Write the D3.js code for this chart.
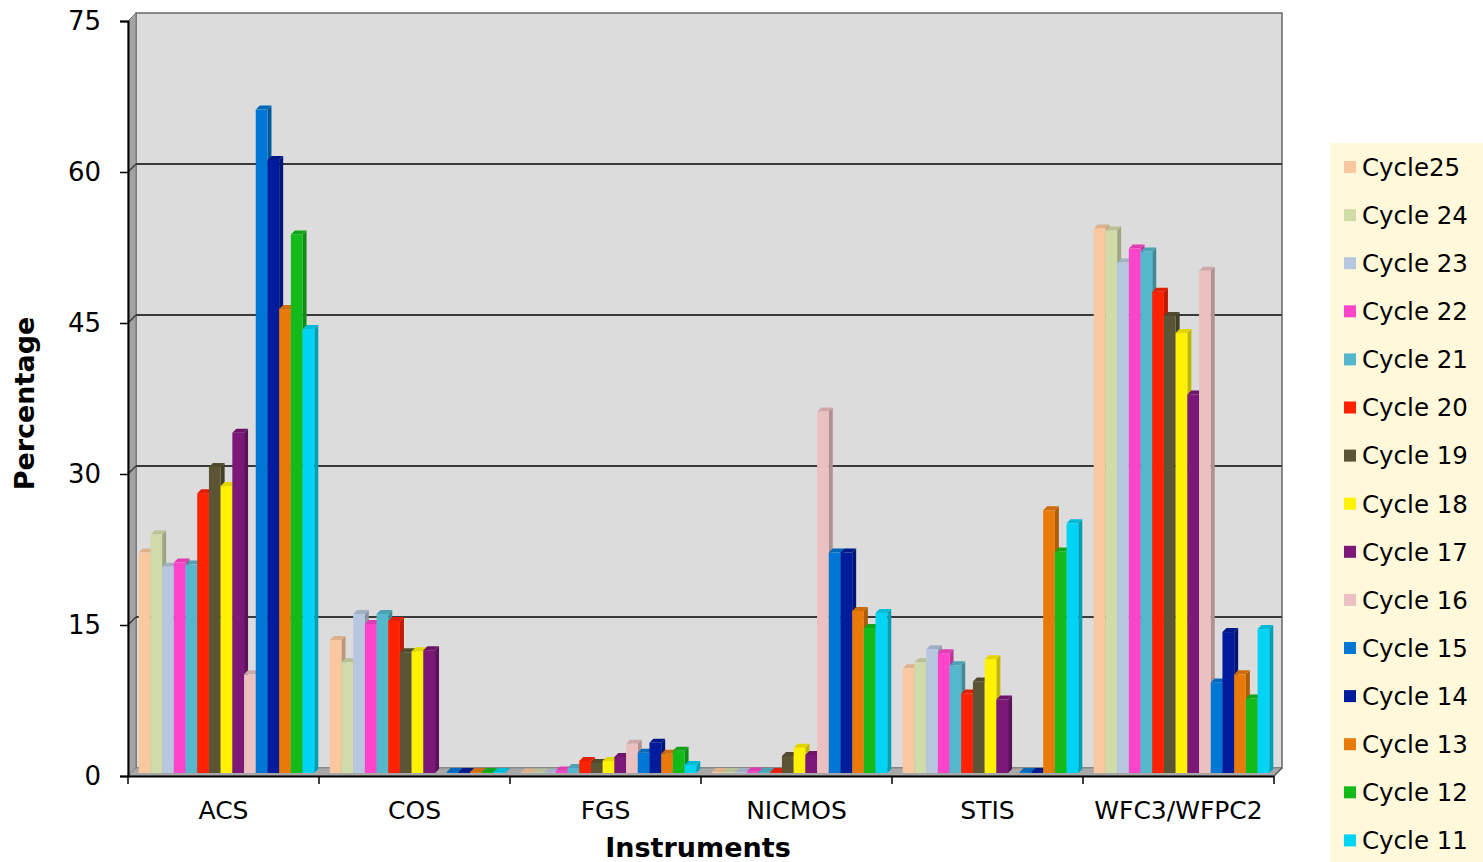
<!DOCTYPE html>
<html>
<head>
<meta charset="utf-8">
<script src="https://cdn.jsdelivr.net/npm/d3@7"></script>
<style>
  html, body { margin: 0; padding: 0; background: #ffffff; }
  svg { display: block; font-family: "DejaVu Sans", Verdana, sans-serif; }
</style>
</head>
<body>
<svg id="chart" width="1483" height="862"></svg>
<script>
// Instruments along the x axis
const categories = ["ACS", "COS", "FGS", "NICMOS", "STIS", "WFC3/WFPC2"];

// Proposal cycles, in legend order
const series = ["Cycle25", "Cycle 24", "Cycle 23", "Cycle 22", "Cycle 21", "Cycle 20",
  "Cycle 19", "Cycle 18", "Cycle 17", "Cycle 16", "Cycle 15", "Cycle 14",
  "Cycle 13", "Cycle 12", "Cycle 11"];

const seriesColors = ["#f9c89e", "#cfdcaa", "#b8c7e0", "#ff44cc", "#55b7cc", "#ff2200",
  "#5b5535", "#fff200", "#7b1878", "#ebc0c0", "#0077d4", "#001c9c",
  "#e87a0a", "#12ba1a", "#00d4f5"];

// Percentage of time per instrument, one value per cycle (same order as series)
const acsValues    = [21.9, 23.7, 20.5, 20.9, 20.7, 27.8, 30.4, 28.5, 33.8, 9.8, 65.9, 60.9, 46.1, 53.5, 44.1];
const cosValues    = [13.2, 11.0, 15.8, 14.8, 15.8, 15.1, 12.0, 12.1, 12.2, 0, 0.1, 0.1, 0.1, 0.1, 0.1];
const fgsValues    = [0.05, 0.05, 0.05, 0.25, 0.5, 1.2, 1.0, 1.2, 1.6, 2.9, 2.0, 3.0, 1.9, 2.2, 0.8];
const nicmosValues = [0.1, 0.1, 0.1, 0.15, 0.1, 0.1, 1.7, 2.5, 1.8, 35.9, 21.9, 21.9, 16.1, 14.4, 15.9];
const stisValues   = [10.4, 11.0, 12.3, 11.9, 10.7, 7.9, 9.1, 11.3, 7.3, 0, 0.1, 0.1, 26.1, 22.0, 24.8];
const wfcValues    = [54.1, 53.9, 50.7, 52.1, 51.8, 47.8, 45.4, 43.7, 37.6, 49.9, 9.0, 14.0, 9.8, 7.4, 14.3];

const yTicks = [0, 15, 30, 45, 60, 75];

const valuesByCategory = [acsValues, cosValues, fgsValues, nicmosValues, stisValues, wfcValues];
const rows = [];
categories.forEach((c, ci) => {
  series.forEach((s, si) => rows.push({ category: c, series: s, value: valuesByCategory[ci][si], color: seriesColors[si] }));
});

const svg = d3.select("#chart");

// Plot geometry (front plane) and 3D depth offsets
const plotLeft = 128, plotRight = 1274, plotBottom = 776, plotTop = 21;
const depth = 8;          // wall depth (px, up-right)
const barFront = 3;       // bar front-face offset into the depth
const barDepth = 4;       // bar thickness in depth

const y = d3.scaleLinear().domain([0, 75]).range([plotBottom, plotTop]);
const x0 = d3.scaleBand().domain(categories).range([plotLeft, plotRight]).paddingInner(0).paddingOuter(0);
const x1 = d3.scaleBand().domain(series).range([0, x0.bandwidth()]).paddingInner(0).paddingOuter(0.66);
const color = d3.scaleOrdinal().domain(series).range(seriesColors);

// Back wall
svg.append("rect")
  .attr("x", plotLeft + depth).attr("y", y(75) - depth)
  .attr("width", plotRight - plotLeft).attr("height", y(0) - y(75))
  .attr("fill", "#dcdcdc").attr("stroke", "#666").attr("stroke-width", 1.5);

// Left wall
svg.append("polygon")
  .attr("points", [[plotLeft, y(75)], [plotLeft + depth, y(75) - depth], [plotLeft + depth, y(0) - depth], [plotLeft, y(0)]].join(" "))
  .attr("fill", "#a2a2a2").attr("stroke", "#777").attr("stroke-width", 1);

// Floor
svg.append("polygon")
  .attr("points", [[plotLeft, y(0)], [plotRight, y(0)], [plotRight + depth, y(0) - depth], [plotLeft + depth, y(0) - depth]].join(" "))
  .attr("fill", "#a8a8a8").attr("stroke", "#888").attr("stroke-width", 1);

// Gridlines on back wall and their continuation across the left wall
const grid = svg.append("g");
yTicks.filter(v => v > 0 && v < 75).forEach(v => {
  grid.append("line")
    .attr("x1", plotLeft + depth).attr("x2", plotRight + depth)
    .attr("y1", y(v) - depth).attr("y2", y(v) - depth)
    .attr("stroke", "#3a3a3a").attr("stroke-width", 2);
  grid.append("line")
    .attr("x1", plotLeft).attr("x2", plotLeft + depth)
    .attr("y1", y(v)).attr("y2", y(v) - depth)
    .attr("stroke", "#3a3a3a").attr("stroke-width", 1.5);
});

// 3D columns: front face, top face and right side face
const bars = svg.append("g");
rows.forEach(d => {
  if (d.value <= 0) return;
  const bx = x0(d.category) + x1(d.series) + barFront;
  const w = x1.bandwidth();
  const yt = y(d.value) - barFront;
  const yb = y(0) - barFront;
  const c = d3.color(d.color);
  const g = bars.append("g");
  // right side face
  g.append("polygon")
    .attr("points", [[bx + w, yt], [bx + w + barDepth, yt - barDepth], [bx + w + barDepth, yb - barDepth], [bx + w, yb]].join(" "))
    .attr("fill", c.darker(0.8));
  // top face
  g.append("polygon")
    .attr("points", [[bx, yt], [bx + barDepth, yt - barDepth], [bx + w + barDepth, yt - barDepth], [bx + w, yt]].join(" "))
    .attr("fill", c.darker(0.35));
  // front face
  g.append("rect")
    .attr("x", bx).attr("y", yt).attr("width", w).attr("height", Math.max(0.5, yb - yt))
    .attr("fill", d.color);
});

// Y axis
const yAxis = svg.append("g")
  .attr("transform", `translate(${plotLeft},0)`)
  .call(d3.axisLeft(y).tickValues(yTicks).tickSize(8).tickPadding(19).tickFormat(d3.format("d")));
yAxis.select(".domain").attr("stroke", "#000").attr("stroke-width", 2);
yAxis.selectAll(".tick line").attr("stroke", "#000").attr("stroke-width", 1.5);
yAxis.selectAll(".tick text").attr("font-size", 26).attr("fill", "#000")
  .attr("font-family", "'DejaVu Sans', Verdana, sans-serif");

// X axis
const xAxis = svg.append("g")
  .attr("transform", `translate(0,${plotBottom})`)
  .call(d3.axisBottom(x0).tickSize(0).tickPadding(25));
xAxis.select(".domain").attr("stroke", "#000").attr("stroke-width", 2);
xAxis.selectAll(".tick text").attr("font-size", 25).attr("fill", "#000")
  .attr("font-family", "'DejaVu Sans', Verdana, sans-serif");
// category boundary ticks
const boundaries = categories.map(c => x0(c)).concat([plotRight]);
xAxis.selectAll(".bound").data(boundaries).enter().append("line")
  .attr("class", "bound")
  .attr("x1", d => d).attr("x2", d => d).attr("y1", 0).attr("y2", 8)
  .attr("stroke", "#000").attr("stroke-width", 1.5);
// front-right corner edge of the floor
svg.append("line")
  .attr("x1", plotRight).attr("y1", plotBottom).attr("x2", plotRight + depth).attr("y2", plotBottom - depth)
  .attr("stroke", "#555").attr("stroke-width", 1.5);

// Axis titles
svg.append("text")
  .attr("x", (plotLeft + plotRight) / 2 - 3).attr("y", 857)
  .attr("text-anchor", "middle").attr("font-size", 27).attr("font-weight", "bold")
  .text("Instruments");
svg.append("text")
  .attr("transform", `translate(34,${(plotTop + plotBottom) / 2 + 5}) rotate(-90)`)
  .attr("text-anchor", "middle").attr("font-size", 27).attr("font-weight", "bold")
  .text("Percentage");

// Legend
const legend = svg.append("g");
legend.append("rect")
  .attr("x", 1330).attr("y", 143).attr("width", 153).attr("height", 719)
  .attr("fill", "#fff8da");
const legendItems = legend.selectAll(".item").data(series).enter().append("g")
  .attr("class", "item")
  .attr("transform", (d, i) => `translate(1344,${167 + i * 48.1})`);
legendItems.append("rect")
  .attr("x", 0).attr("y", -6).attr("width", 12).attr("height", 12)
  .attr("fill", d => color(d));
legendItems.append("text")
  .attr("x", 18).attr("y", 0).attr("dy", "0.36em")
  .attr("font-size", 24.5).attr("fill", "#000")
  .text(d => d);
</script>
</body>
</html>
